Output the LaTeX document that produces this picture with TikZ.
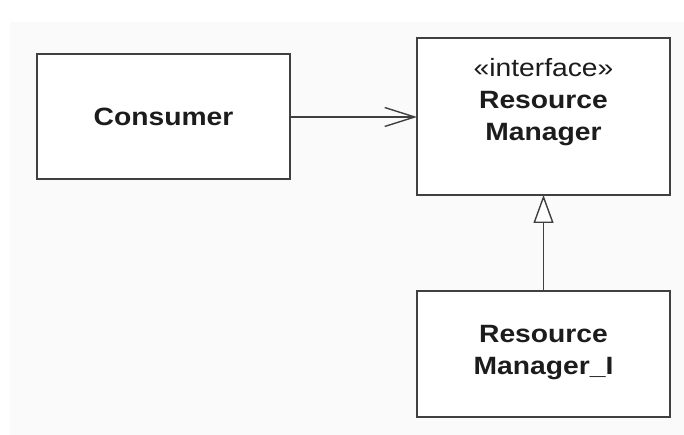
\documentclass[tikz,border=0pt]{standalone}
\usepackage{fontspec}
\setmainfont{Liberation Sans}[FakeStretch=1.13]
\usetikzlibrary{arrows.meta}
\definecolor{edge}{HTML}{404040}
\definecolor{ink}{HTML}{1C1C1C}
\definecolor{paper}{HTML}{FAFAFA}
\tikzset{
  classbox/.style={draw=edge, line width=2pt, fill=white},
  label/.style={text=ink, font=\fontsize{25}{32}\selectfont\bfseries, align=center},
  link/.style={draw=edge, line width=1.4pt},
}
\begin{document}
\begin{tikzpicture}[x=1pt, y=-1pt]
  \useasboundingbox (0,0) rectangle (684,435);
  \fill[paper] (10,22) rectangle (684,435);

  % class boxes
  \draw[classbox] (37,54) rectangle (290,179);
  \draw[classbox] (417,38) rectangle (670,195);
  \draw[classbox] (417,291) rectangle (670,417);

  % names of the boxes (anchors for the connectors)
  \coordinate (cons) at (290,117);
  \coordinate (rm) at (417,117);
  \coordinate (rmbot) at (543.5,195);
  \coordinate (rmitop) at (543.5,291);

  \node[label] (consumer) at (163.5,116.5) {Consumer};
  \node[label, anchor=north] (manager) at (543.5,55)
    {{\mdseries «interface»}\\Resource\\Manager};
  \node[label] (impl) at (543.5,353) {Resource\\Manager\_I};

  % dependency and realization
  \draw[link, -{Straight Barb[length=30pt, width=19pt, line width=1.4pt]}] (cons) -- (rm);
  \draw[link, -{Triangle[open, length=28pt, width=20pt, line width=1.4pt, fill=white]}] (rmitop) -- (rmbot);
\end{tikzpicture}
\end{document}
